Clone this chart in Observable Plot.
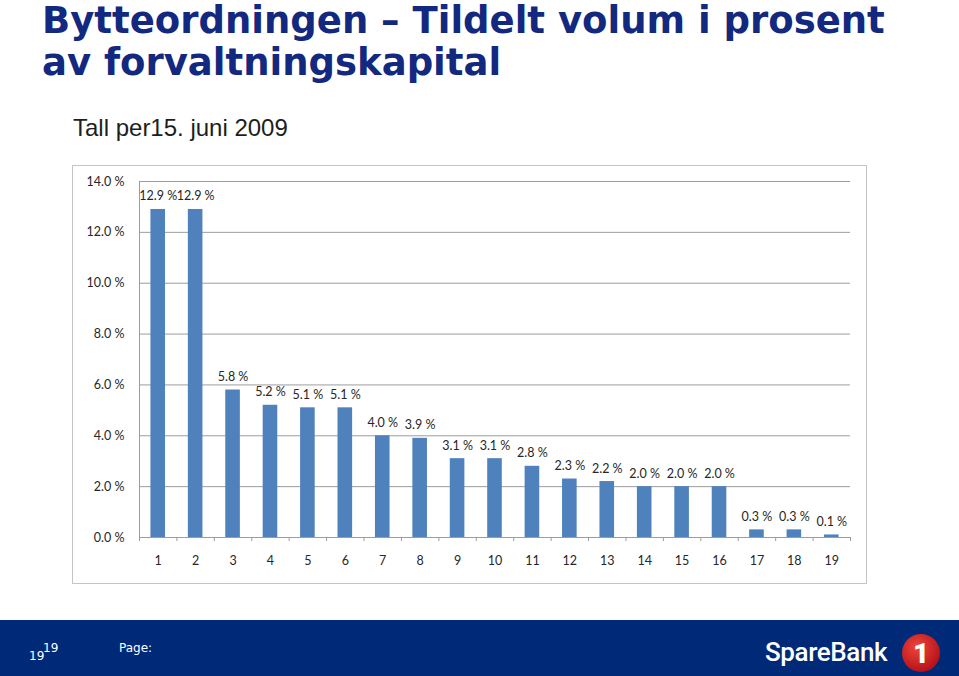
<!DOCTYPE html>
<html>
<head>
<meta charset="utf-8">
<script src="https://cdn.jsdelivr.net/npm/d3@7"></script>
<script src="https://cdn.jsdelivr.net/npm/@observablehq/plot@0.6"></script>
<style>
html, body { margin: 0; padding: 0; background: #fff; }
#page { position: relative; width: 959px; height: 676px; overflow: hidden; }
#title { position: absolute; left: 42px; top: 0px; font-family: "DejaVu Sans", Verdana, sans-serif; font-weight: bold; font-size: 37px; line-height: 42px; color: #13287f; white-space: nowrap; }
#sub { position: absolute; left: 73px; top: 116px; font-family: "Liberation Sans", Arial, sans-serif; font-size: 24px; line-height: 24px; color: #1e1e1e; white-space: nowrap; }
#box { position: absolute; left: 72px; top: 165px; width: 795px; height: 419px; box-sizing: border-box; border: 1px solid #c4c4c4; }
#chart { position: absolute; left: 72px; top: 165px; }
#footer { position: absolute; left: 0; top: 620px; width: 959px; height: 56px; background: #002a78; color: #fff; font-family: "DejaVu Sans", Verdana, sans-serif; }
#pg1 { position: absolute; left: 29px; top: 29px; font-size: 12px; }
#pg2 { position: absolute; left: 43px; top: 21px; font-size: 12px; }
#pgl { position: absolute; left: 119px; top: 21px; font-size: 12px; }
#brand { position: absolute; left: 765px; top: 17px; font-family: Roboto, sans-serif; font-weight: 500; font-size: 26px; letter-spacing: -0.4px; color: #fff; }
#logo { position: absolute; left: 900px; top: 10px; }
</style>
</head>
<body>
<div id="page">
  <div id="title">Bytteordningen – Tildelt volum i prosent<br>av forvaltningskapital</div>
  <div id="sub">Tall per15. juni 2009</div>
  <div id="box"></div>
  <div id="chart"></div>
  <div id="footer">
    <div id="pg1">19</div>
    <div id="pg2">19</div>
    <div id="pgl">Page:</div>
    <div id="brand">SpareBank</div>
    <svg id="logo" width="44" height="44" viewBox="0 0 44 44">
      <defs>
        <radialGradient id="rg" cx="40%" cy="35%" r="65%">
          <stop offset="0%" stop-color="#f0453a"/>
          <stop offset="100%" stop-color="#b5121b"/>
        </radialGradient>
      </defs>
      <circle cx="21" cy="23" r="19" fill="url(#rg)"/>
      <text x="21" y="33" text-anchor="middle" font-family="Roboto, sans-serif" font-weight="900" font-size="28" fill="#fff">1</text>
    </svg>
  </div>
</div>
<script>
// Data
const categories = [1, 2, 3, 4, 5, 6, 7, 8, 9, 10, 11, 12, 13, 14, 15, 16, 17, 18, 19];
const values = [12.9, 12.9, 5.8, 5.2, 5.1, 5.1, 4.0, 3.9, 3.1, 3.1, 2.8, 2.3, 2.2, 2.0, 2.0, 2.0, 0.3, 0.3, 0.1];
const yTicks = [0, 2, 4, 6, 8, 10, 12, 14];

const data = categories.map((c, i) => ({cat: c, value: values[i]}));
const fmt = v => v.toFixed(1) + " %";
const boundaries = d3.range(0.5, categories.length + 1, 1);
const half = 0.195;
const font = "Lato, 'Open Sans', sans-serif";

const chart = Plot.plot({
  width: 795,
  height: 419,
  marginLeft: 67,
  marginRight: 17,
  marginTop: 16,
  marginBottom: 47,
  style: {fontFamily: font, fontSize: "12.5px", color: "#262626", background: "transparent"},
  x: {type: "linear", domain: [0.5, categories.length + 0.5]},
  y: {domain: [0, 14]},
  marks: [
    Plot.gridY(yTicks, {stroke: "#9c9c9c", strokeOpacity: 1, strokeWidth: 1}),
    Plot.ruleX([0.5], {stroke: "#9c9c9c", strokeWidth: 1}),
    Plot.axisY({ticks: yTicks, tickSize: 0, tickPadding: 15, tickFormat: fmt, label: null}),
    Plot.axisX({ticks: boundaries, tickSize: 4, tickFormat: () => "", stroke: "#9c9c9c", label: null}),
    Plot.axisX({ticks: categories, tickSize: 0, tickPadding: 19, tickFormat: d => String(d), label: null}),
    Plot.rectY(data, {x1: d => d.cat - half, x2: d => d.cat + half, y: "value", fill: "#4f81bd"}),
    Plot.text(data, {x: "cat", y: "value", text: d => fmt(d.value), dy: -13, fill: "#262626", fontSize: 12.5})
  ]
});
document.getElementById("chart").appendChild(chart);
</script>
</body>
</html>
